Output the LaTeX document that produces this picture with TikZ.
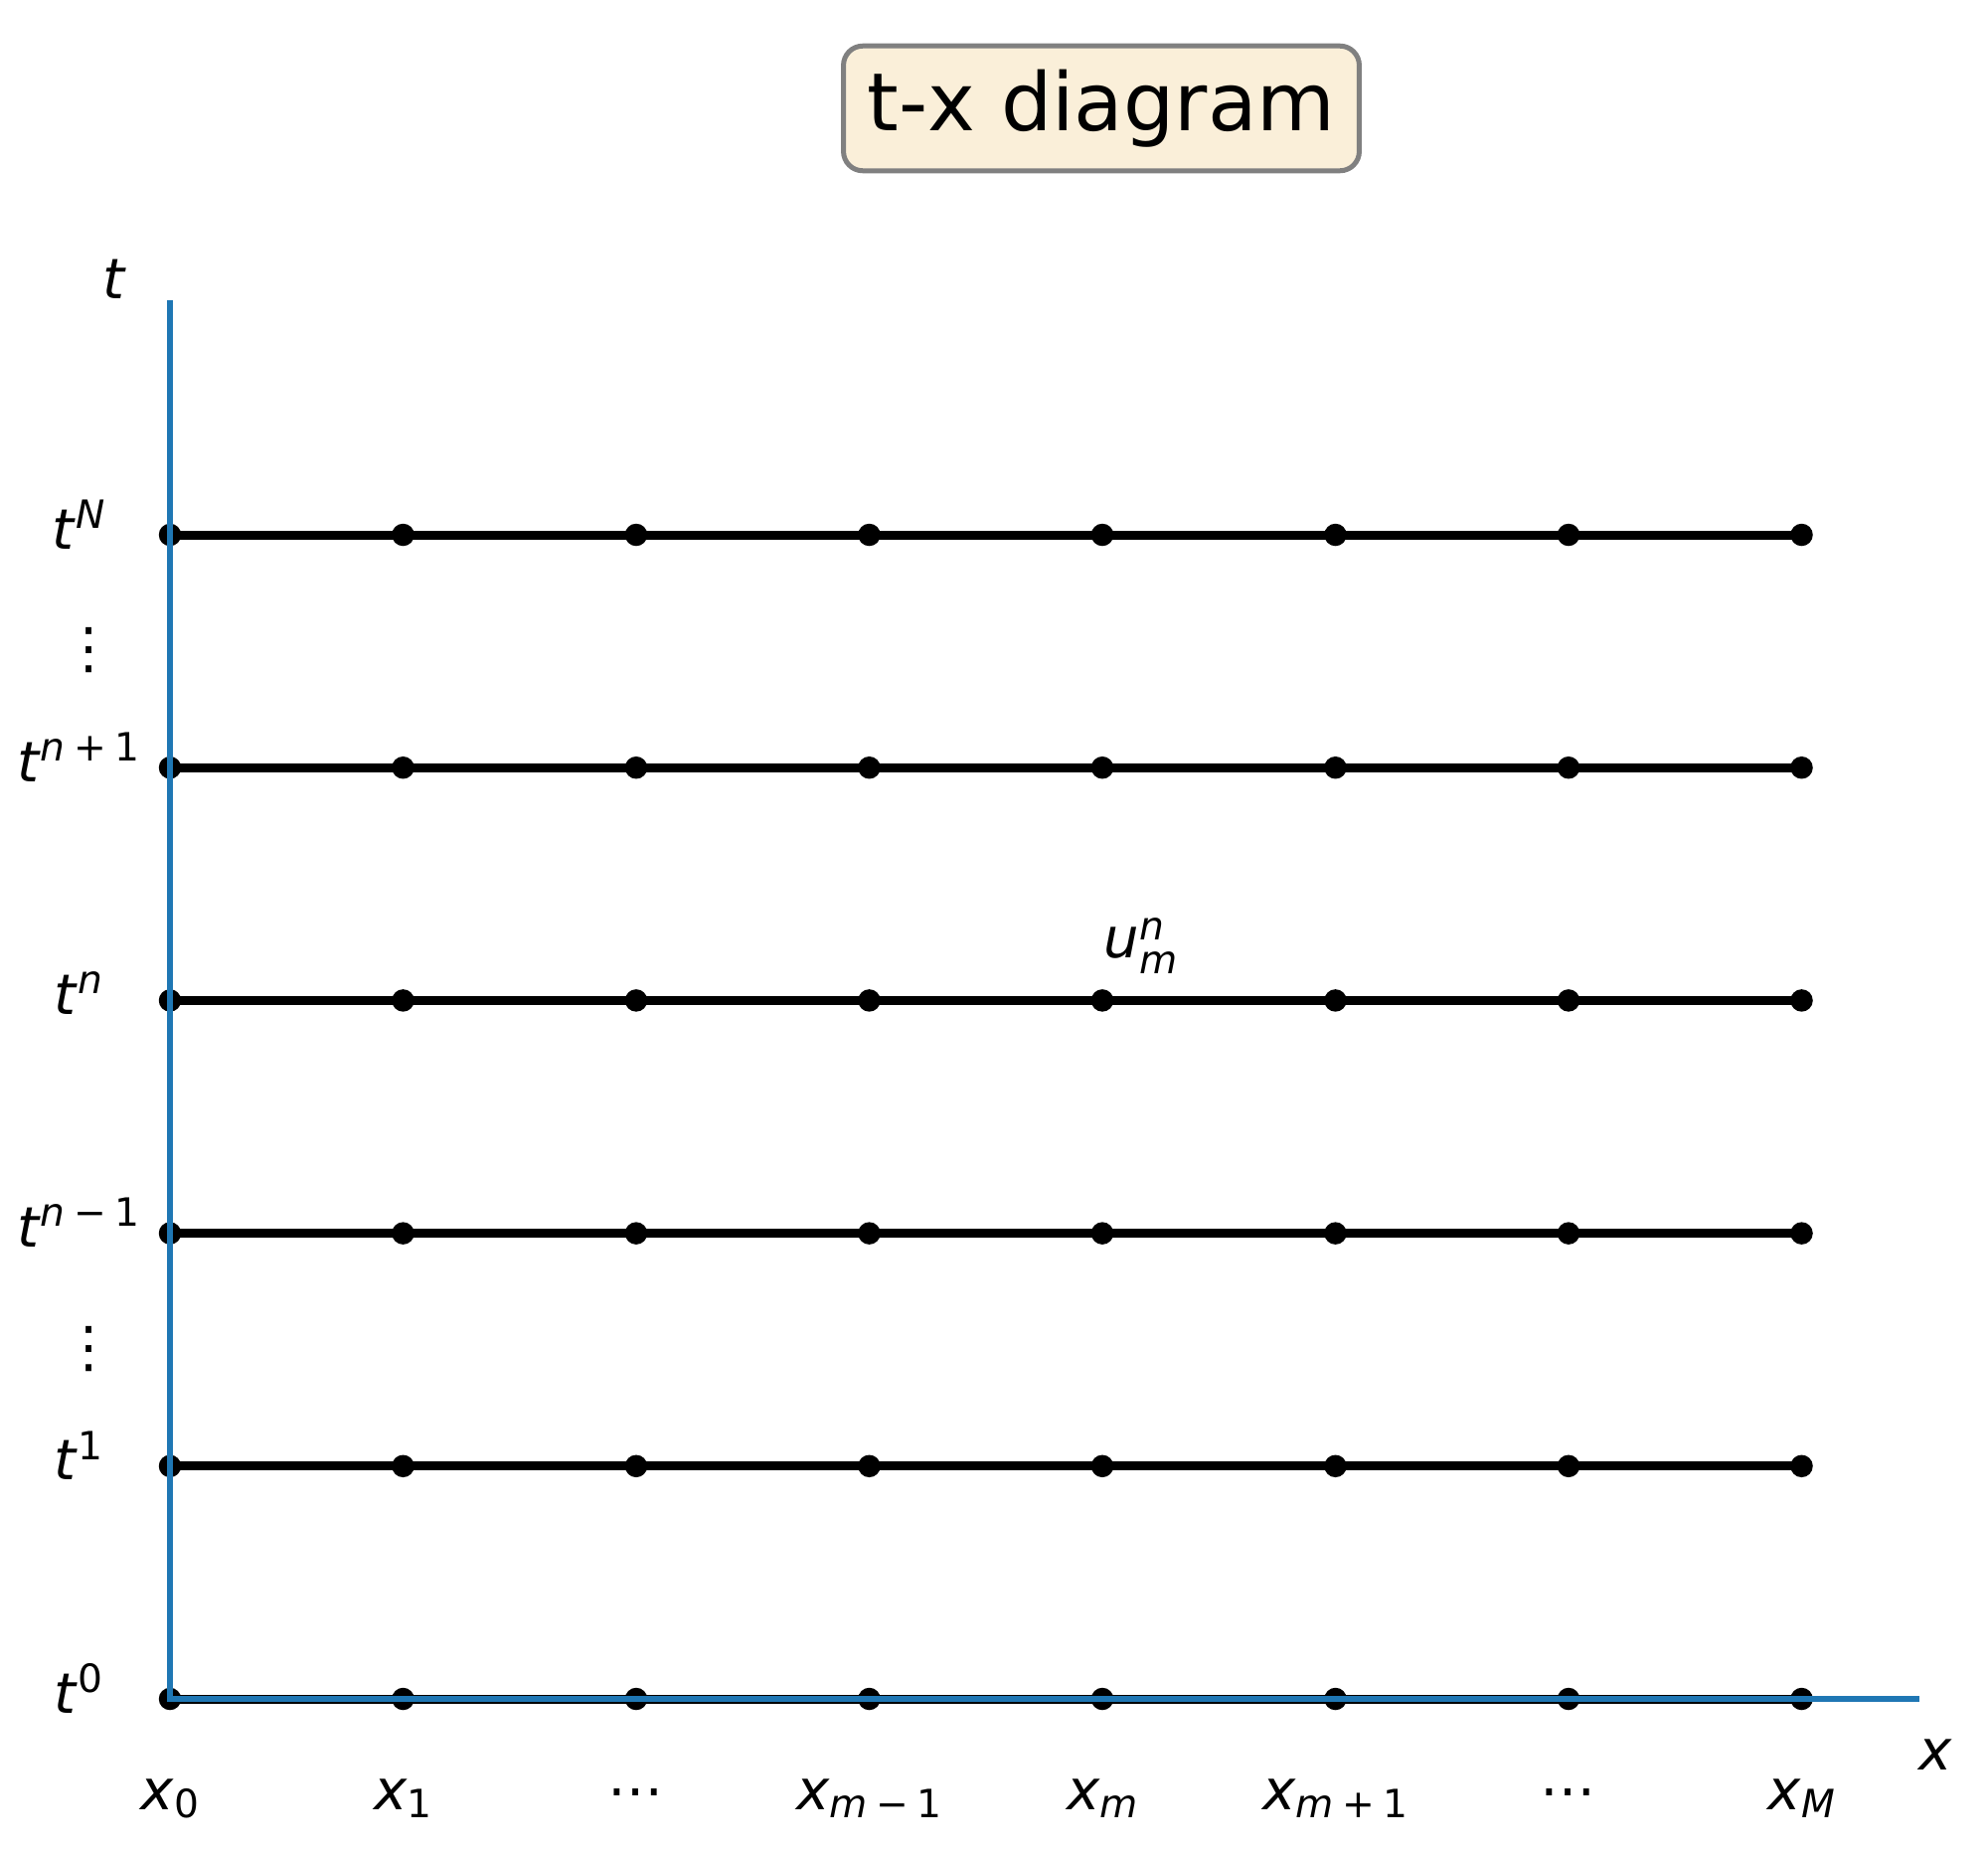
\documentclass[tikz,border=0pt]{standalone}
\usepackage{fontspec}
\setmainfont{DejaVu Sans}
\definecolor{axisblue}{HTML}{1F77B4}
\definecolor{boxfill}{HTML}{FAEFD9}
\definecolor{boxedge}{HTML}{808080}
\newcommand\lblfont{\fontsize{20.2}{24}\selectfont}
\newcommand\scr{\fontsize{14.1}{16}\selectfont}
\newcommand\Up[2][0.37em]{\raisebox{#1}{\scr #2}}
\newcommand\Dn[2][-0.15em]{\raisebox{#1}{\scr #2}}
\newcommand\bop[1]{\hspace{0.22em}#1\hspace{0.22em}}
\begin{document}
\begin{tikzpicture}[x=0.36pt,y=-0.36pt,
  gridline/.style={line width=3.24pt, black},
  griddot/.style={circle, fill=black, inner sep=0pt, minimum size=8.1pt},
  axisline/.style={line width=2.16pt, axisblue},
  lbl/.style={inner sep=0pt, anchor=base, font=\lblfont},
  titlebox/.style={draw=boxedge, fill=boxfill, line width=1.8pt, rounded corners=7pt,
    minimum width=186.8pt, minimum height=45.2pt, inner sep=0pt,
    font=\fontsize{29.1}{34}\selectfont}]
\path[use as bounding box] (0,0) rectangle (2000,1861);

% title
\node[titlebox] (title) at (1108,109) {t-x diagram};

% grid
\foreach \j in {0,...,5} {
  \foreach \i in {0,...,7} {\coordinate (c\i-\j) at ({171+234.5*\i},{1709-234.2*\j});}
  \draw[gridline] (c0-\j) -- (c7-\j);
  \foreach \i in {0,...,7} {\node[griddot] (d\i-\j) at (c\i-\j) {};}
}

% axes
\coordinate (origin) at (171,1709);
\coordinate (ttop) at (171,302);
\coordinate (xend) at (1931,1709);
\draw[axisline] (ttop) -- (origin) -- (xend);

% axis labels
\node[lbl] (tlabel) at (115,300) {\textit{t}};
\node[lbl] (xlabel) at (1947,1780) {\textit{x}};

% t tick labels
\node[lbl] (t0) at (79,{1709+14}) {\textit{t}\Up{0}};
\node[lbl] (t1) at (79,{1474.8+14}) {\textit{t}\Up{1}};
\node[lbl] (tnm) at (79,{1240.6+14}) {\textit{t}\Up{\textit{n}\bop{−}1}};
\node[lbl] (tn) at (79,{1006.4+14}) {\textit{t}\Up{\textit{n}}};
\node[lbl] (tnp) at (79,{772.2+14}) {\textit{t}\Up{\textit{n}\bop{+}1}};
\node[lbl] (tN) at (79,{538+14}) {\textit{t}\Up{\textit{N}}};
\node[lbl] (vdA) at (90,671) {⋮};
\node[lbl] (vdB) at (90,1374) {⋮};

% x tick labels
\node[lbl] (x0) at (171,1820) {\textit{x}\Dn{0}};
\node[lbl] (x1) at (405.5,1820) {\textit{x}\Dn{1}};
\node[lbl] (xdA) at (640,1820) {⋯};
\node[lbl] (xmm) at (874.5,1820) {\textit{x}\Dn{\textit{m}\bop{−}1}};
\node[lbl] (xm) at (1109,1820) {\textit{x}\Dn{\textit{m}}};
\node[lbl] (xmp) at (1343.5,1820) {\textit{x}\Dn{\textit{m}\bop{+}1}};
\node[lbl] (xdB) at (1578,1820) {⋯};
\node[lbl] (xM) at (1812.5,1820) {\textit{x}\Dn{\textit{M}}};

% point label
\node[lbl, anchor=base west] (umn) at (1110,963)
  {\textit{u}\rlap{\Up[0.32em]{\textit{n}}}\Dn[-0.30em]{\textit{m}}};
\end{tikzpicture}
\end{document}
